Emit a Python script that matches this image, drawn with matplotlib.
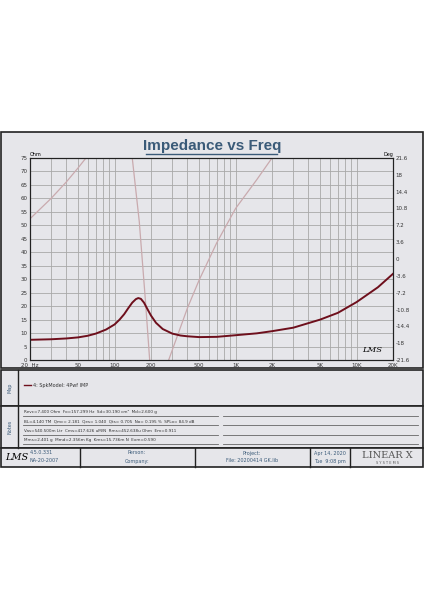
import matplotlib.pyplot as plt
from matplotlib.patches import Rectangle

# impedance (ohm)
freq = [20, 30, 40, 50, 60, 70, 85, 100, 110, 120, 130, 140, 150, 157, 165, 175, 190, 200,
        220, 250, 300, 350, 400, 500, 700, 1000, 1500, 2000, 3000, 5000, 7000, 10000, 15000, 20000]
imp = [7.5, 7.7, 8.0, 8.4, 9.0, 9.8, 11.3, 13.2, 15.0, 17.0, 19.3, 21.3, 22.6, 23.0, 22.7, 21.3,
       18.3, 16.5, 13.8, 11.5, 9.8, 9.1, 8.8, 8.5, 8.6, 9.2, 9.9, 10.7, 12.0, 15.0, 17.5, 21.5, 27.0, 32.0]
# phase branches (deg), wrapped at the axis limits
ph1_f = [20, 30, 40, 50, 58]
ph1 = [8.6, 13.0, 16.5, 19.5, 21.6]
ph2_f = [140, 160, 180, 195]
ph2 = [21.6, 8.0, -9.0, -21.6]
ph3_f = [280, 400, 500, 700, 1000, 1500, 2000]
ph3 = [-21.6, -10.5, -4.5, 3.5, 10.8, 17.0, 21.6]

xticks = [20, 50, 100, 200, 500, 1000, 2000, 5000, 10000, 20000]
xlabels = ['20  Hz', '50', '100', '200', '500', '1K', '2K', '5K', '10K', '20K']
yticks = list(range(0, 80, 5))
pticks = [-21.6, -18, -14.4, -10.8, -7.2, -3.6, 0, 3.6, 7.2, 10.8, 14.4, 18, 21.6]

notes = ['Revc=7.400 Ohm  Fo=157.299 Hz  Sd=30.190 cm²  Md=2.600 g',
         'BL=4.140 TM  Qmc= 2.181  Qes= 1.040  Qts= 0.705  No= 0.195 %  SPLo= 84.9 dB',
         'Vas=540.500m Ltr  Cms=417.626 uM/N  Rms=452.638u Ohm  Em=0.911',
         'Mms=2.401 g  Mmd=2.356m Kg  Kms=15.736m N  Exm=0.590']

bg = '#e6e6ea'
fig = plt.figure(figsize=(4.24, 6), dpi=100)
fig.patch.set_facecolor('white')

def box(x, y, w, h, fc=bg, lw=1.2):
    fig.add_artist(Rectangle((x / 424, 1 - (y + h) / 600), w / 424, h / 600, zorder=-5,
                             transform=fig.transFigure, fc=fc, ec='#222222', lw=lw))

box(1, 132, 422, 236)
box(1, 370, 422, 36)
box(1, 406, 422, 42)
box(1, 448, 422, 19)
for xx in [80, 195, 310, 350]:
    fig.add_artist(plt.Line2D([xx / 424] * 2, [1 - 467 / 600, 1 - 448 / 600], color='#222', lw=1))
fig.add_artist(plt.Line2D([18 / 424] * 2, [1 - 448 / 600, 1 - 370 / 600], color='#222', lw=1))

fig.text(0.5, 1 - 146 / 600, 'Impedance vs Freq', ha='center', va='center', fontsize=11,
         fontweight='bold', color='#3a5a78', family='Liberation Sans')
fig.add_artist(plt.Line2D([146 / 424, 277 / 424], [1 - 154 / 600] * 2, color='#3a5a78', lw=1))

ax = fig.add_axes([30 / 424, 1 - 360 / 600, 363 / 424, 202 / 600])
ax.set_xscale('log')
ax.set_xlim(20, 20000)
ax.set_ylim(0, 75)
ax.set_xticks(xticks)
ax.set_xticklabels(xlabels)
ax.set_xticks([], minor=True)
ax.set_yticks(yticks)
ax.tick_params(labelsize=4, length=0, pad=2, colors='#333')
ax.text(0, 1.005, 'Ohm', transform=ax.transAxes, fontsize=3.5, ha='left', va='bottom')

ax2 = ax.twinx()
ax2.set_ylim(-21.6, 21.6)
ax2.set_yticks(pticks)
ax2.set_yticklabels(['%g' % p for p in pticks])
ax2.tick_params(labelsize=4, length=0, pad=2, colors='#333')
ax2.text(1, 1.005, 'Deg', transform=ax.transAxes, fontsize=3.5, ha='right', va='bottom')

# grid and phase on the back axes, impedance on the front one
minor = [m * 10 ** d for d in range(1, 5) for m in range(1, 10) if 20 <= m * 10 ** d <= 20000]
for m in minor:
    ax2.axvline(m, color='#a8a8a8', lw=0.6, zorder=0)
for y in yticks:
    ax2.axhline(y * 43.2 / 75 - 21.6, color='#a8a8a8', lw=0.6, zorder=0)
for f, p in [(ph1_f, ph1), (ph2_f, ph2), (ph3_f, ph3)]:
    ax2.plot(f, p, color='#c9aaae', lw=0.9)
ax2.set_zorder(0)
ax.set_zorder(1)
ax2.patch.set_visible(True)
ax2.patch.set_facecolor(bg)
ax.patch.set_visible(False)
ax.plot(freq, imp, color='#6e0f1c', lw=1.4)
ax.text(0.97, 0.04, 'LMS', transform=ax.transAxes, fontsize=6, style='italic',
        ha='right', family='DejaVu Serif')
for a in (ax, ax2):
    for s in a.spines.values():
        s.set_color('#222')

fig.text(10 / 424, 1 - 388 / 600, 'Map', rotation=90, fontsize=3.5, color='#3a5a78', ha='center', va='center')
fig.text(10 / 424, 1 - 427 / 600, 'Notes', rotation=90, fontsize=3.5, color='#3a5a78', ha='center', va='center')
fig.add_artist(plt.Line2D([24 / 424, 31 / 424], [1 - 385 / 600] * 2, color='#6e0f1c', lw=1))
fig.text(33 / 424, 1 - 385 / 600, '4: SpkModel: 4Pwf IMP', fontsize=3.5, va='center', color='#333')
for i, n in enumerate(notes):
    y = 412 + i * 9.5
    fig.text(24 / 424, 1 - y / 600, n, fontsize=3, va='center', color='#333')
    fig.add_artist(plt.Line2D([23 / 424, 218 / 424], [1 - (y + 3.5) / 600] * 2, color='#666', lw=0.6))
    fig.add_artist(plt.Line2D([223 / 424, 418 / 424], [1 - (y + 3.5) / 600] * 2, color='#666', lw=0.6))

fig.text(5 / 424, 1 - 457 / 600, 'LMS', fontsize=7, style='italic', family='DejaVu Serif', va='center')
fig.text(30 / 424, 1 - 453 / 600, '4.5.0.331', fontsize=3.5, color='#3a5a78', va='center')
fig.text(30 / 424, 1 - 461 / 600, 'NA-20-2007', fontsize=3.5, color='#3a5a78', va='center')
fig.text(137 / 424, 1 - 453 / 600, 'Person:', fontsize=3.5, ha='center', va='center', color='#3a5a78')
fig.text(137 / 424, 1 - 461 / 600, 'Company:', fontsize=3.5, ha='center', va='center', color='#3a5a78')
fig.text(252 / 424, 1 - 453 / 600, 'Project:', fontsize=3.5, ha='center', va='center', color='#3a5a78')
fig.text(252 / 424, 1 - 461 / 600, 'File: 20200414 GK.lib', fontsize=3.5, ha='center', va='center', color='#3a5a78')
fig.text(330 / 424, 1 - 453 / 600, 'Apr 14, 2020', fontsize=3.5, ha='center', va='center', color='#3a5a78')
fig.text(330 / 424, 1 - 461 / 600, 'Tue  9:08 pm', fontsize=3.5, ha='center', va='center', color='#3a5a78')
fig.text(387 / 424, 1 - 455 / 600, 'LINEAR X', fontsize=7, ha='center', va='center', color='#555', family='DejaVu Serif')
fig.text(387 / 424, 1 - 463 / 600, 'S Y S T E M S', fontsize=2.5, ha='center', va='center', color='#555')

fig.savefig('out.png', dpi=100)
